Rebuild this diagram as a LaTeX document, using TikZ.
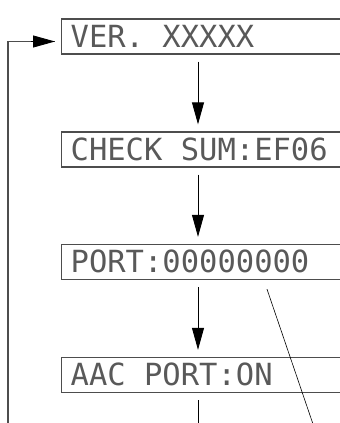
\documentclass[tikz,border=0pt]{standalone}
\usepackage{fontspec}
\newfontfamily\lcdfont{DejaVu Sans Mono}
\usetikzlibrary{arrows.meta, calc, positioning}
\definecolor{lcdGrey}{HTML}{4D4D4D}
\newcommand\lcdsp{\phantom{0}}
\tikzset{
  % display screens and the arrows between them
  every picture/.append style = {line width=0.9pt},
  lcdbox/.style  = {draw=lcdGrey, line width=1.3pt, anchor=west,
                    text width=266pt, inner xsep=9pt, inner ysep=0pt,
                    minimum height=35pt, text height=21pt, text depth=0pt,
                    align=left, font=\lcdfont\fontsize{30.5}{30.5}\selectfont,
                    text=black!65},
  flow/.style    = {-{Triangle[length=22pt, width=12pt]}, black},
  gap/.style     = {shorten <=7pt, shorten >=7pt},
  loopline/.style = {lcdGrey, line width=1.3pt},
}

\begin{document}
\begin{tikzpicture}[x=1pt, y=-1pt]
  \useasboundingbox (0,0) rectangle (340,423);
  \clip (0,0) rectangle (340,423);
  % the four screens
  \node[lcdbox] (ver) at (61,36.5)  {VER.\lcdsp XXXXX};
  \node[lcdbox] (chk) at (61,149.5) {CHECK\lcdsp SUM:EF06};
  \node[lcdbox] (prt) at (61,262)   {PORT:00000000};
  \node[lcdbox] (aac) at (61,375)   {AAC\lcdsp PORT:ON};
  % helper points
  \coordinate (ax) at (198,0);
  \coordinate (bot) at (0,430);
  \coordinate (lx) at (8,430);
  \coordinate (dtop) at ($(prt.south west)+(206,9)$);
  \coordinate (dend) at (315,430);
  % steps down
  \draw[flow, gap] (ver.south -| ax) -- (chk.north -| ax);
  \draw[flow, gap] (chk.south -| ax) -- (prt.north -| ax);
  \draw[flow, gap] (prt.south -| ax) -- (aac.north -| ax);
  \draw[shorten <=7pt] (aac.south -| ax) -- (ax |- bot);
  % back to the top
  \draw[loopline] (lx) |- ([xshift=-6pt, yshift=-5pt]ver.west);
  \draw[flow, shorten >=6pt] ([xshift=-30pt, yshift=-5pt]ver.west) -- ([yshift=-5pt]ver.west);
  % pointer line
  \draw[line width=0.6pt] (dtop) -- (dend);
\end{tikzpicture}
\end{document}
